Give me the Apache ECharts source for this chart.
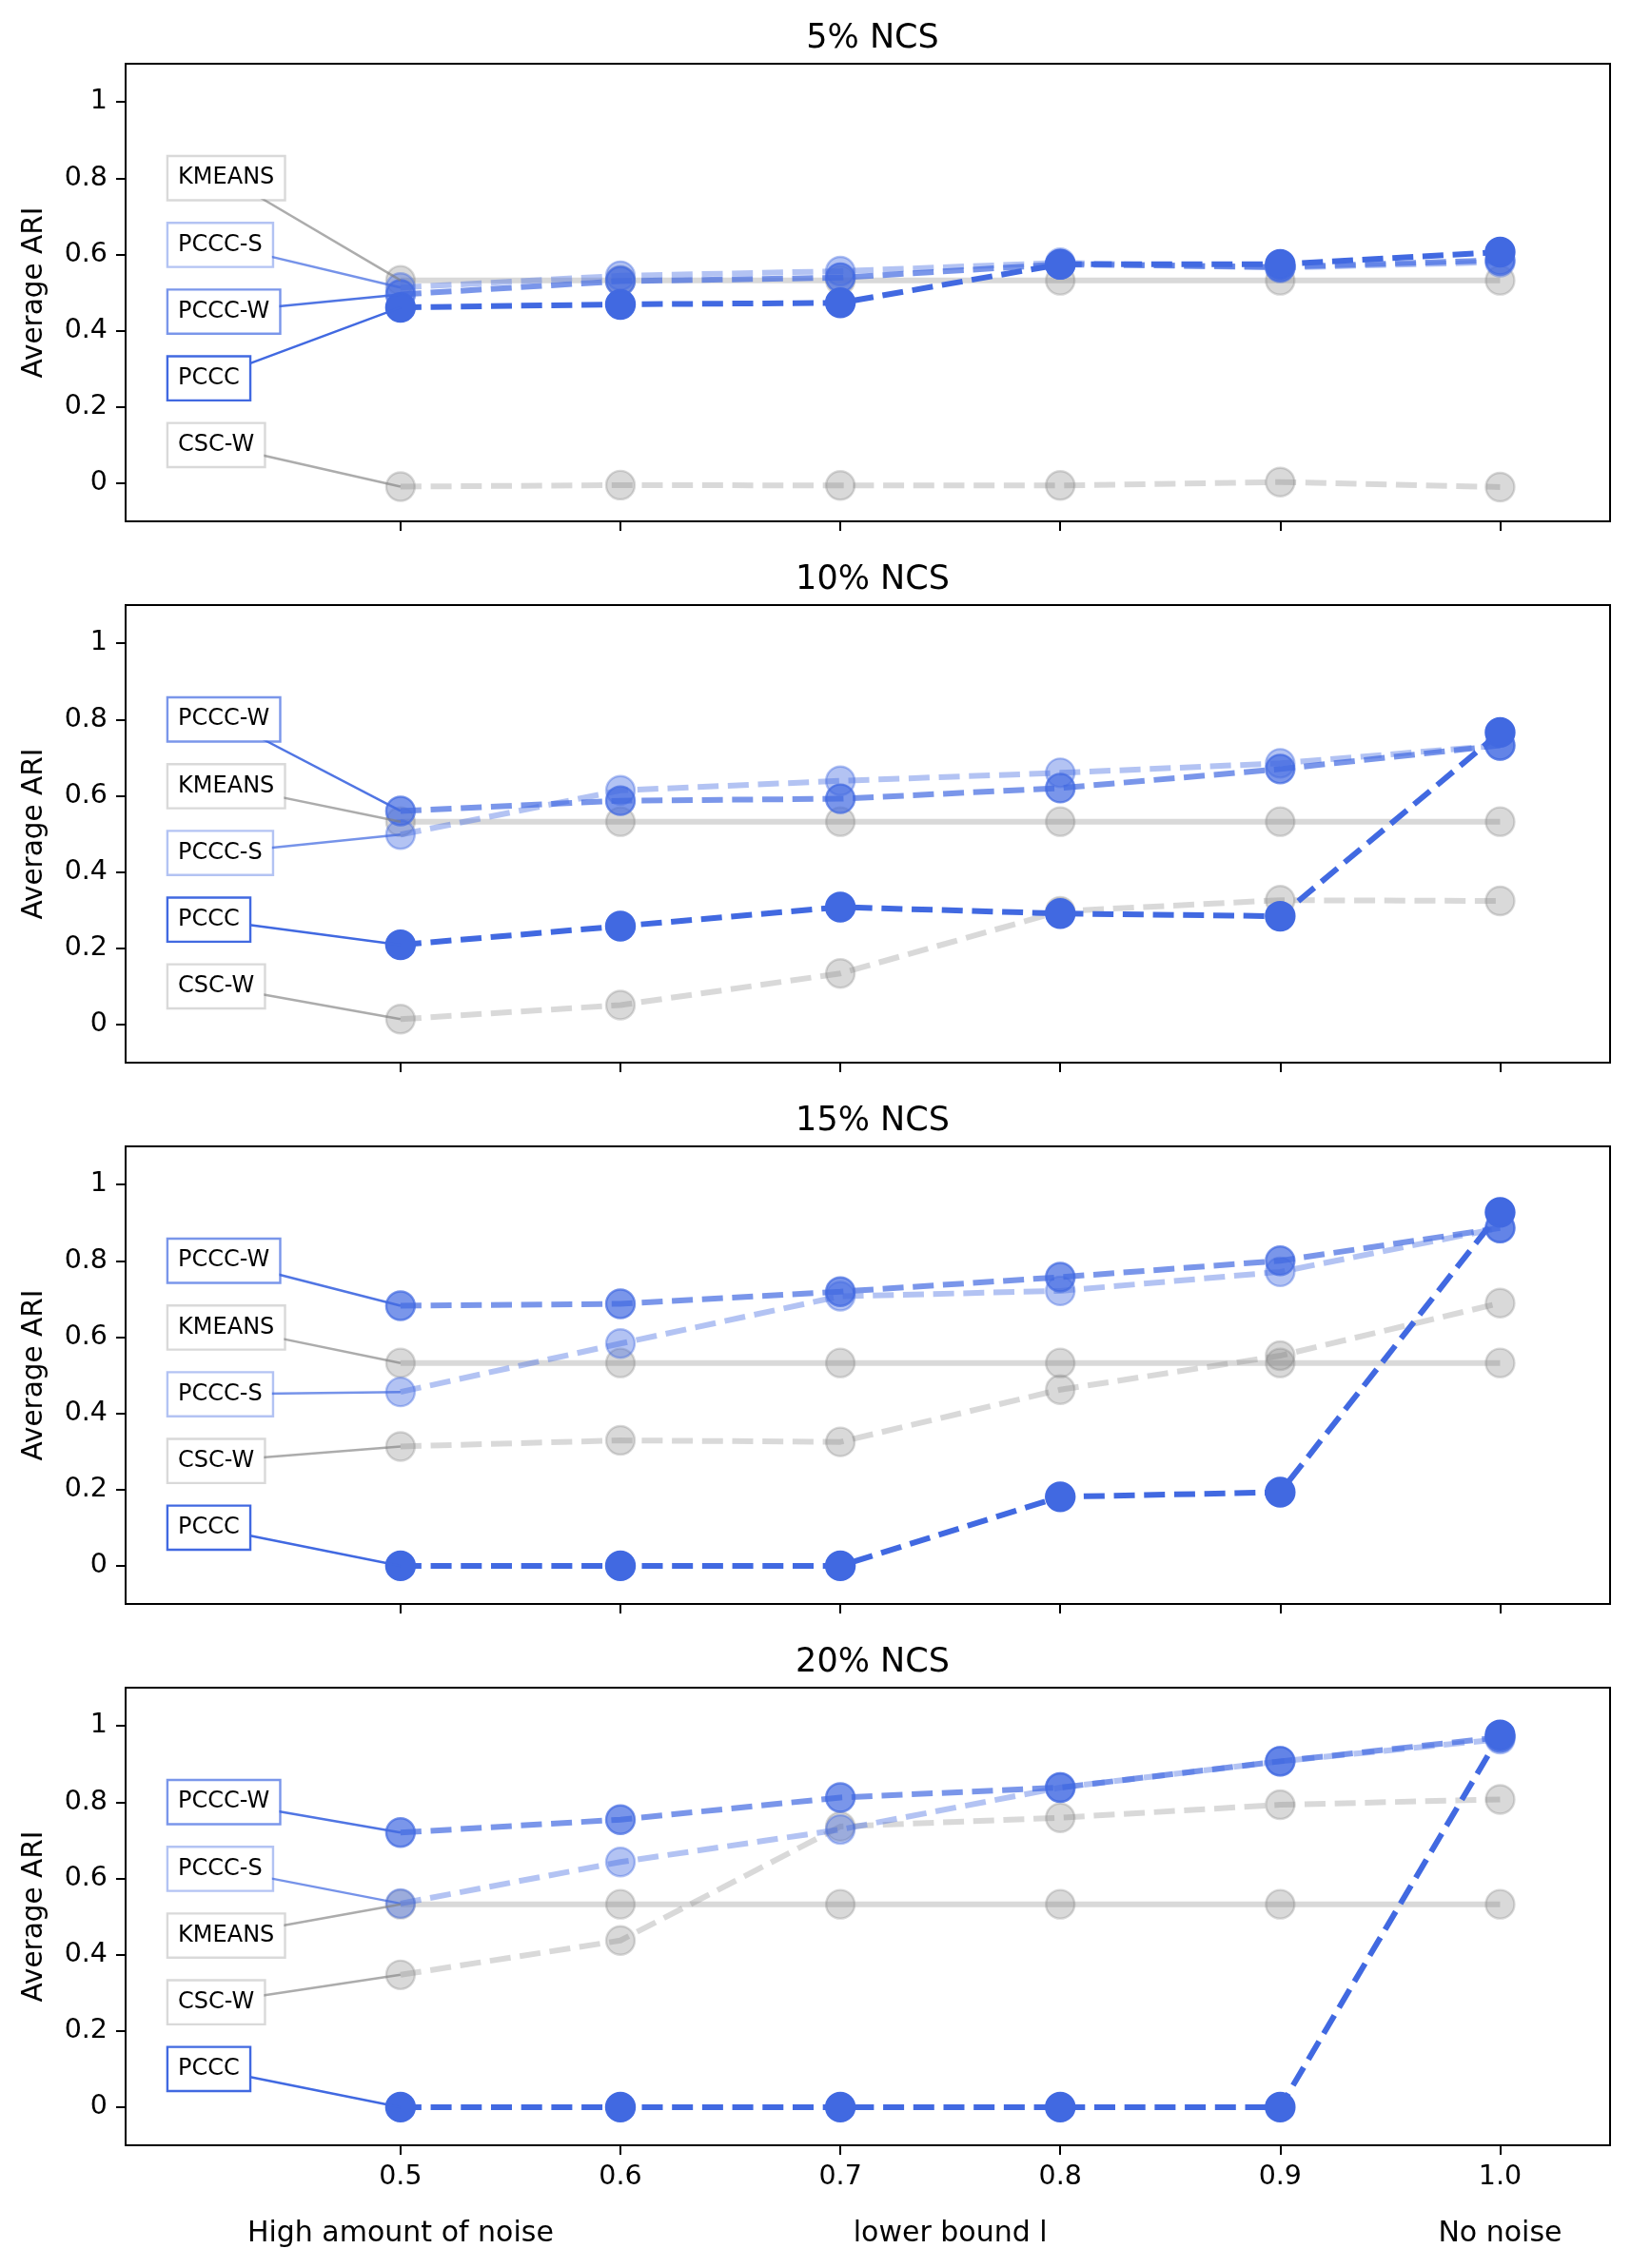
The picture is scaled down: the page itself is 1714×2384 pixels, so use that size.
<!DOCTYPE html>
<html>
<head>
<meta charset="utf-8">
<script src="https://cdn.jsdelivr.net/npm/echarts@6/dist/echarts.min.js"></script>
<style>
html,body{margin:0;padding:0;background:#fff;}
#chart{width:1714px;height:2384px;}
</style>
</head>
<body>
<div id="chart"></div>
<script>
// ---------------- data ----------------
const XS = [0.5, 0.6, 0.7, 0.8, 0.9, 1.0];
const X_TICK_LABELS = ['0.5', '0.6', '0.7', '0.8', '0.9', '1.0'];
const Y_TICKS = [0, 0.2, 0.4, 0.6, 0.8, 1];
const PANEL_TITLES = ['5% NCS', '10% NCS', '15% NCS', '20% NCS'];
const BOTTOM_NOTES_X = [0.5, 0.75, 1.0];
const BOTTOM_NOTES = ['High amount of noise', 'lower bound l', 'No noise'];

// one row per panel (5%, 10%, 15%, 20% NCS), one value per lower bound in XS
const CSC_W = [
  [-0.009, -0.005, -0.006, -0.006, 0.003, -0.010],
  [0.014, 0.051, 0.134, 0.297, 0.326, 0.324],
  [0.313, 0.329, 0.325, 0.462, 0.551, 0.689],
  [0.347, 0.437, 0.736, 0.759, 0.793, 0.807]
];
const KMEANS = [
  [0.532, 0.532, 0.532, 0.532, 0.532, 0.532],
  [0.532, 0.532, 0.532, 0.532, 0.532, 0.532],
  [0.532, 0.532, 0.532, 0.532, 0.532, 0.532],
  [0.532, 0.532, 0.532, 0.532, 0.532, 0.532]
];
const PCCC_S = [
  [0.513, 0.544, 0.556, 0.578, 0.565, 0.580],
  [0.498, 0.614, 0.639, 0.660, 0.685, 0.732],
  [0.456, 0.583, 0.707, 0.721, 0.771, 0.886],
  [0.534, 0.643, 0.728, 0.838, 0.907, 0.965]
];
const PCCC_W = [
  [0.495, 0.530, 0.539, 0.574, 0.567, 0.585],
  [0.560, 0.587, 0.592, 0.620, 0.670, 0.732],
  [0.682, 0.687, 0.719, 0.757, 0.800, 0.886],
  [0.720, 0.754, 0.812, 0.838, 0.907, 0.970]
];
const PCCC = [
  [0.461, 0.469, 0.473, 0.574, 0.574, 0.606],
  [0.209, 0.258, 0.308, 0.291, 0.284, 0.766],
  [0.000, 0.000, 0.000, 0.181, 0.193, 0.927],
  [0.000, 0.000, 0.000, 0.000, 0.000, 0.976]
];

// ---------------- styles / layout ----------------
const METHODS = [
  {name: 'CSC-W',  data: CSC_W,  color: 'rgba(128,128,128,0.3)', box: 'rgba(128,128,128,0.3)', conn: 'rgba(128,128,128,0.65)', dash: true},
  {name: 'KMEANS', data: KMEANS, color: 'rgba(128,128,128,0.3)', box: 'rgba(128,128,128,0.3)', conn: 'rgba(128,128,128,0.65)', dash: false},
  {name: 'PCCC-S', data: PCCC_S, color: 'rgba(65,105,225,0.4)',  box: 'rgba(65,105,225,0.4)',  conn: 'rgba(65,105,225,0.72)', dash: true},
  {name: 'PCCC-W', data: PCCC_W, color: 'rgba(65,105,225,0.7)',  box: 'rgba(65,105,225,0.7)',  conn: 'rgba(65,105,225,0.92)', dash: true},
  {name: 'PCCC',   data: PCCC,   color: 'rgba(65,105,225,1)',    box: 'rgba(65,105,225,1)',    conn: 'rgba(65,105,225,1)', dash: true}
];
const FONT = 'DejaVu Sans';
const W = 1714;
const GRID_LEFT = 132, GRID_RIGHT = 22, GRID_H = 481;
const GRID_TOPS = [67, 636, 1205, 1774];
const X_MIN = 0.375, X_MAX = 1.05, Y_MIN = -0.1, Y_MAX = 1.1;
const LABEL_X = 0.3945;
const LABEL_SLOTS = [0.8, 0.625, 0.45, 0.275, 0.1];
const LABEL_FONT = 24, LABEL_PAD = 10, BOX_BW = 2.4;
const LW = 6, MS = 30, DASH = [22, 9.7];
const TICK_FONT = 28.5, NOTE_FONT = 30, YNAME_FONT = 29.5, TITLE_FONT = 35;

// box centre (for connector start) from measured text width
const measureCtx = document.createElement('canvas').getContext('2d');
measureCtx.font = LABEL_FONT + 'px "' + FONT + '"';
const PX_PER_X = (W - GRID_LEFT - GRID_RIGHT) / (X_MAX - X_MIN);
function boxCenterX(text) {
  const w = measureCtx.measureText(text).width + 2 * LABEL_PAD + BOX_BW;
  return LABEL_X + (w / 2) / PX_PER_X;
}

const grids = [], xAxes = [], yAxes = [], series = [], titles = [];
PANEL_TITLES.forEach((t, p) => {
  grids.push({left: GRID_LEFT, right: GRID_RIGHT, top: GRID_TOPS[p], height: GRID_H,
    show: true, borderColor: '#000', borderWidth: 2, backgroundColor: 'transparent'});
  titles.push({text: t, left: GRID_LEFT + (W - GRID_LEFT - GRID_RIGHT) / 2, textAlign: 'center',
    top: GRID_TOPS[p] - 49, textStyle: {fontFamily: FONT, fontSize: TITLE_FONT, fontWeight: 'normal', color: '#000'}});
  xAxes.push({gridIndex: p, type: 'value', min: X_MIN, max: X_MAX, position: 'bottom',
    axisLine: {show: true, onZero: false, lineStyle: {color: '#000', width: 2}},
    axisTick: {show: true, length: 10, lineStyle: {color: '#000', width: 2}, customValues: XS},
    axisLabel: {show: p === 3, customValues: XS, margin: 19, fontFamily: FONT, fontSize: TICK_FONT, color: '#000',
      formatter: v => X_TICK_LABELS[XS.findIndex(x => Math.abs(x - v) < 1e-9)] || ''},
    splitLine: {show: false}});
  yAxes.push({gridIndex: p, type: 'value', min: Y_MIN, max: Y_MAX,
    name: 'Average ARI', nameLocation: 'middle', nameGap: 81, nameRotate: 90,
    nameTextStyle: {fontFamily: FONT, fontSize: YNAME_FONT, color: '#000'},
    axisLine: {show: true, onZero: false, lineStyle: {color: '#000', width: 2}},
    axisTick: {show: true, length: 10, lineStyle: {color: '#000', width: 2}, customValues: Y_TICKS},
    axisLabel: {customValues: Y_TICKS, margin: 19, fontFamily: FONT, fontSize: TICK_FONT, color: '#000',
      formatter: v => (Math.abs(v) < 1e-9 ? '0' : Math.abs(v - 1) < 1e-9 ? '1' : v.toFixed(1))},
    splitLine: {show: false}});

  // data lines
  METHODS.forEach((m, mi) => {
    series.push({type: 'line', xAxisIndex: p, yAxisIndex: p, z: 2 + mi * 0.1,
      data: XS.map((x, i) => [x, m.data[p][i]]),
      symbol: 'circle', symbolSize: MS, showSymbol: true,
      lineStyle: {color: m.color, width: LW, type: m.dash ? DASH : 'solid', cap: 'butt'},
      itemStyle: {color: m.color, borderColor: m.color, borderWidth: 2.4, opacity: 1},
      emphasis: {disabled: true}, silent: true});
  });

  // annotations: boxes ordered by value at the first lower bound
  const order = METHODS.map((m, i) => i).sort((a, b) => METHODS[b].data[p][0] - METHODS[a].data[p][0]);
  const labelItems = [];
  order.forEach((mi, k) => {
    const m = METHODS[mi];
    series.push({type: 'line', xAxisIndex: p, yAxisIndex: p, z: 5, symbol: 'none',
      data: [[boxCenterX(m.name), LABEL_SLOTS[k]], [XS[0], m.data[p][0]]],
      lineStyle: {color: m.conn, width: 2.5, type: 'solid'}, emphasis: {disabled: true}, silent: true});
    labelItems.push({value: [LABEL_X, LABEL_SLOTS[k]], name: m.name,
      label: {borderColor: m.box}});
  });
  series.push({type: 'scatter', xAxisIndex: p, yAxisIndex: p, z: 100, symbol: 'circle', symbolSize: 0.1,
    itemStyle: {color: 'rgba(0,0,0,0)', opacity: 1}, data: labelItems, silent: true,
    label: {show: true, position: 'right', distance: 0, formatter: d => d.name, opacity: 1,
      fontFamily: FONT, fontSize: LABEL_FONT, color: '#000', lineHeight: LABEL_FONT,
      backgroundColor: '#fff', borderWidth: BOX_BW, padding: [LABEL_PAD, LABEL_PAD, LABEL_PAD, LABEL_PAD]},
    emphasis: {disabled: true}});
});

// bottom notes below last panel
xAxes.push({gridIndex: 3, type: 'value', min: X_MIN, max: X_MAX, position: 'bottom',
  axisLine: {show: false, onZero: false}, axisTick: {show: false}, splitLine: {show: false},
  axisLabel: {show: true, customValues: BOTTOM_NOTES_X, margin: 78, fontFamily: FONT, fontSize: NOTE_FONT, color: '#000',
    formatter: v => BOTTOM_NOTES[BOTTOM_NOTES_X.findIndex(x => Math.abs(x - v) < 1e-9)] || ''}});

const chart = echarts.init(document.getElementById('chart'), null, {renderer: 'canvas', devicePixelRatio: 1});
chart.setOption({animation: false, backgroundColor: '#fff', title: titles,
  grid: grids, xAxis: xAxes, yAxis: yAxes, series: series});
</script>
</body>
</html>
